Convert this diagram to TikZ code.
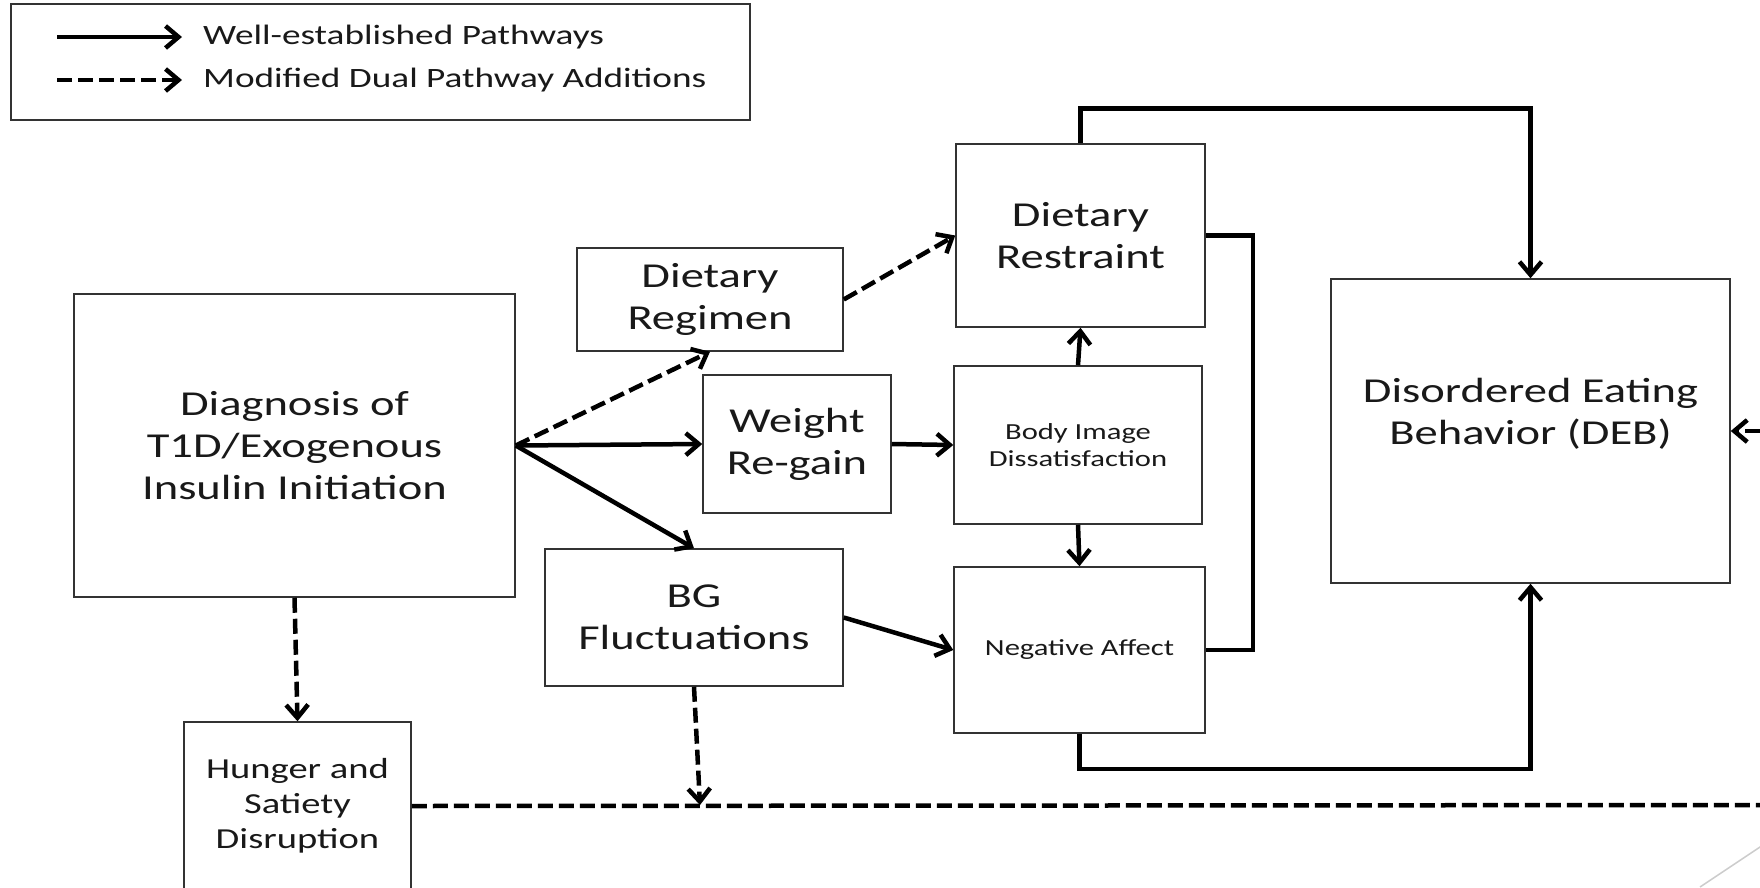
\documentclass[tikz,border=0pt]{standalone}
\usepackage{fontspec}
\setmainfont{Carlito}[FakeStretch=1.33]
\usepackage{tikz}
\usetikzlibrary{arrows.meta}
\newcommand{\labelbig}{\fontsize{35}{42}\selectfont}
\newcommand{\labelmid}{\fontsize{29}{35}\selectfont}
\newcommand{\labelsmall}{\fontsize{23}{27}\selectfont}
\newcommand{\labellegend}{\fontsize{28}{33}\selectfont}
\tikzstyle{box} = [rectangle, draw=black!80, line width=1.5pt, fill=white, align=center, text=black!90, inner sep=0pt]
\tikzstyle{arrow} = [line width=4.5pt, -{Straight Barb[length=13pt,width=22pt]}]
\tikzstyle{dasharrow} = [arrow, dash pattern=on 15pt off 6pt]
\tikzstyle{dashline} = [line width=4.5pt, dash pattern=on 15pt off 6pt]
\tikzstyle{link} = [line width=4.5pt]

\begin{document}
\begin{tikzpicture}[x=1pt, y=-1pt]
\useasboundingbox (0,0) rectangle (1760,887);

% legend
\node (legend) [box, minimum width=739pt, minimum height=116pt] at (380.5,62) {};
\coordinate (wellstart) at (57,37);
\coordinate (modstart) at (57,80);
\node (welltxt) [anchor=west, inner xsep=21pt, font=\labellegend, text=black!90] at (182,37) {Well-established Pathways};
\node (modtxt) [anchor=west, inner xsep=21pt, font=\labellegend, text=black!90] at (182,80) {Modified Dual Pathway Additions};
\draw [arrow] (wellstart) -- (welltxt.west);
\draw [dasharrow] (modstart) -- (modtxt.west);

% boxes
\node (diag) [box, minimum width=441pt, minimum height=303pt, font=\labelbig] at (294.5,445.5) {Diagnosis of\\T1D/Exogenous\\Insulin Initiation};
\node (regimen) [box, minimum width=266pt, minimum height=103pt, font=\labelbig] at (710,299.5) {Dietary\\Regimen};
\node (weight) [box, minimum width=188pt, minimum height=138pt, font=\labelbig] at (797,444) {Weight\\Re-gain};
\node (bg) [box, minimum width=298pt, minimum height=137pt, font=\labelbig] at (694,617.5) {BG\\Fluctuations};
\node (hunger) [box, minimum width=227pt, minimum height=168pt, font=\labelmid] at (297.5,806) {Hunger and\\Satiety\\Disruption};
\node (restraint) [box, minimum width=249pt, minimum height=183pt, font=\labelbig] at (1080.5,235.5) {Dietary\\Restraint};
\node (bodyimg) [box, minimum width=248pt, minimum height=158pt, font=\labelsmall] at (1078,445) {Body Image\\Dissatisfaction};
\node (negaff) [box, minimum width=251pt, minimum height=166pt, font=\labelsmall] at (1079.5,650) {Negative Affect};
\node (deb) [box, minimum width=399pt, minimum height=304pt,
  label={[anchor=center, yshift=-136pt, font=\labelbig, align=center, text=black!90]90:{Disordered Eating\\Behavior (DEB)}}] at (1530.5,431) {};

% pathways
\draw [dasharrow] (diag.east) -- (regimen.south);
\draw [arrow] (diag.east) -- (weight.west);
\draw [arrow] (diag.east) -- (bg.north);
\draw [dasharrow] (regimen.east) -- (restraint.west);
\draw [arrow] (weight.east) -- (bodyimg.west);
\draw [arrow] (bodyimg.north) -- (restraint.south);
\draw [arrow] (bodyimg.south) -- (negaff.north);
\draw [arrow] (bg.east) -- (negaff.west);
\draw [arrow] (restraint.north) -- ++(0,-35) -| (deb.north);
\draw [link] (restraint.east) -- ++(47,0) |- (negaff.east);
\draw [arrow] (negaff.south) -- ++(0,35) -| (deb.south);
\draw [dasharrow] (diag.south) -- (hunger.north);

\coordinate (bgdrop) at (700,805);
\coordinate (offright) at (1760,805);
\coordinate (debin) at (1760,431);
\draw [dasharrow] (bg.south) -- (bgdrop);
\draw [dashline] (hunger.east) -- (offright);
\draw [dasharrow] (debin) -- (deb.east);

% slide corner line
\draw [black!20, line width=1.5pt] (1790,827) -- (1700,887);
\end{tikzpicture}
\end{document}
